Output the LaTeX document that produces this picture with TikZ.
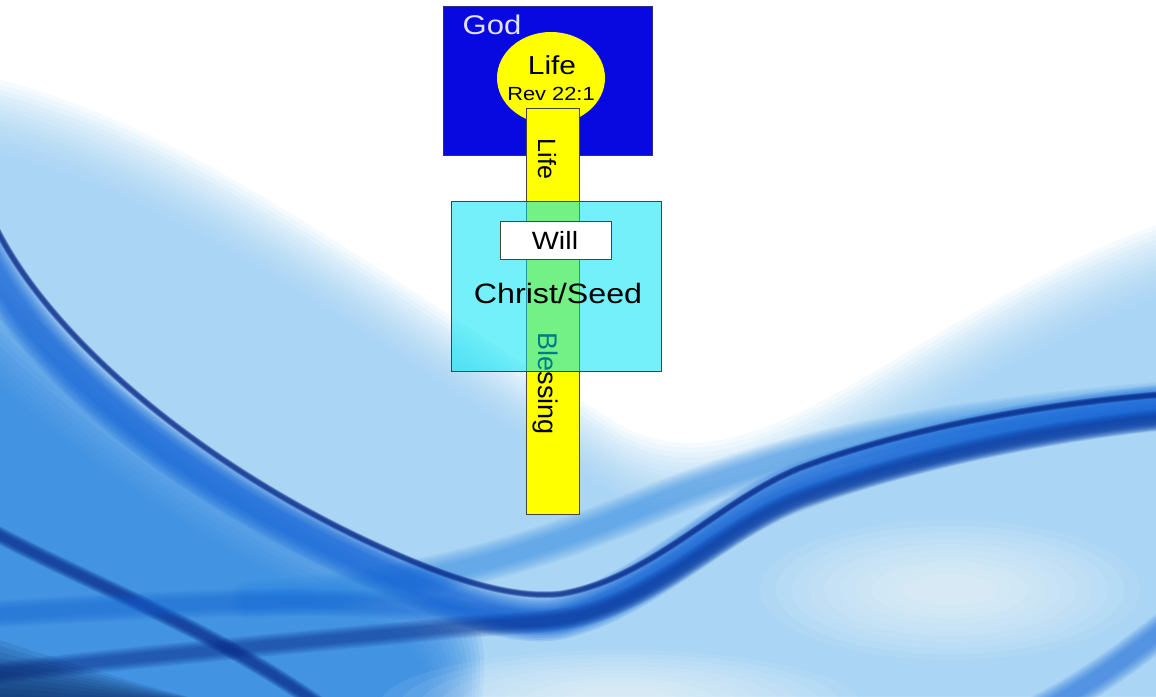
\documentclass[tikz,border=0pt]{standalone}
\usepackage{fontspec}
\usepackage{graphicx}
\setmainfont{Liberation Sans}
\usetikzlibrary{shapes.geometric}
\definecolor{bgLight}{RGB}{150,205,245}
\definecolor{bgMid}{RGB}{45,135,225}
\definecolor{bandBlue}{RGB}{20,100,215}
\definecolor{bandDark}{RGB}{10,45,140}
\definecolor{navy}{RGB}{5,30,85}
\definecolor{godBlue}{RGB}{8,8,225}
\definecolor{godText}{RGB}{225,225,255}
\definecolor{lifeYellow}{RGB}{255,255,0}
\definecolor{seedCyan}{RGB}{0,228,245}
\definecolor{edgeGray}{RGB}{70,70,60}
\definecolor{edgeTeal}{RGB}{30,80,95}
\newcommand\wide[1]{\scalebox{1.15}[1]{#1}}
\newcommand\softstroke[4]{%
  \foreach \k in {0,...,9}{\draw[color=#2, line width={#3*(1+0.2*\k)}, opacity=#4, line cap=round] #1;}}
\tikzset{
  godbox/.style={draw=edgeGray!60!godBlue, line width=0.6pt, fill=godBlue, inner sep=0pt, outer sep=0pt},
  lifeoval/.style={ellipse, fill=lifeYellow, inner sep=0pt, outer sep=0pt},
  lifebar/.style={draw=edgeGray, line width=0.7pt, fill=lifeYellow, inner sep=0pt, outer sep=0pt},
  seedbox/.style={draw=edgeTeal, line width=0.7pt, fill=seedCyan, fill opacity=0.55, draw opacity=1, inner sep=0pt, outer sep=0pt},
  willbox/.style={draw=edgeGray, line width=0.7pt, fill=white, inner sep=0pt, outer sep=0pt},
  lbl/.style={inner sep=0pt, outer sep=0pt, anchor=base, text=black},
}
\begin{document}
\begin{tikzpicture}[x=1pt,y=-1pt]
\useasboundingbox (0,0) rectangle (1156,696);
% ---------- background ----------
\begin{scope}
\clip (0,0) rectangle (1156,696);
\fill[white] (0,0) rectangle (1156,696);
% light blue region with soft top edge
\foreach \k in {0,...,15}{
  \fill[bgLight, opacity=0.085, yshift={-\k*5pt}]
    (0,80) .. controls (200,130) and (400,290) .. (620,425)
    .. controls (760,500) and (900,320) .. (1156,225)
    -- (1156,760) -- (0,760) -- cycle;
}
% medium blue region lower left
\foreach \k in {0,...,13}{
  \fill[bgMid, opacity=0.11, xshift={-\k*4pt}, yshift={-\k*4pt}]
    (-60,220) .. controls (90,390) and (260,500) .. (430,570)
    .. controls (480,600) and (500,640) .. (470,760) -- (-60,760) -- cycle;
}
% medium blue rising band (lower middle towards right)
\softstroke{(250,600) .. controls (400,590) and (520,560) .. (650,505) .. controls (760,460) and (900,420) .. (1200,398)}{bgMid}{14}{0.07}
% main swoosh
\softstroke{(-20,245) .. controls (40,365) and (180,485) .. (400,578) .. controls (470,608) and (520,625) .. (560,617) .. controls (650,595) and (720,515) .. (800,485) .. controls (900,450) and (1050,415) .. (1200,404)}{bandBlue}{16}{0.13}
\softstroke{(-10,215) .. controls (40,330) and (200,470) .. (400,556) .. controls (470,586) and (520,598) .. (560,594) .. controls (650,580) and (720,500) .. (800,468) .. controls (900,430) and (1050,400) .. (1200,392)}{bandDark}{2.5}{0.16}
% lower bands on the left, merging into the swoosh
\softstroke{(-20,525) .. controls (100,590) and (220,630) .. (340,720)}{bandDark}{6}{0.12}
\softstroke{(-20,615) .. controls (150,605) and (320,595) .. (440,610) .. controls (480,615) and (520,625) .. (560,620) .. controls (650,600) and (720,525) .. (800,495) .. controls (900,460) and (1050,425) .. (1200,412)}{bandBlue}{10}{0.06}
\softstroke{(-20,675) .. controls (150,655) and (330,640) .. (450,628) .. controls (500,624) and (530,624) .. (570,618) .. controls (660,600) and (720,530) .. (800,500) .. controls (900,462) and (1050,428) .. (1200,416)}{bandDark}{8}{0.07}
% dark lower-left corner
\foreach \k in {0,...,9}{
  \fill[navy, opacity=0.1] (0,{640+\k*6}) .. controls (60,{660+\k*4}) and (140,{685+\k*2}) .. (200,700) -- (0,700) -- cycle;
}
% whitish glow lower middle / right
\foreach \k in {0,...,9}{
  \fill[white, opacity=0.08] (950,590) ellipse ({190-\k*16} and {70-\k*6});
  \fill[white, opacity=0.08] (620,705) ellipse ({240-\k*20} and {55-\k*4});
}
% blue lower right
\softstroke{(1000,730) .. controls (1070,700) and (1120,665) .. (1200,600)}{bandBlue}{12}{0.08}
\end{scope}
% ---------- diagram ----------
\node[godbox, minimum width=209pt, minimum height=149pt] (god) at (547.5,80.5) {};
\node[lbl, text=godText, font=\fontsize{27}{30}\selectfont] (godlabel) at (492,34) {\wide{God}};
\node[lifeoval, minimum width=108pt, minimum height=92pt] (source) at (551,78) {};
\node[lbl, font=\fontsize{26}{30}\selectfont] (sourcelife) at (552,74) {\wide{Life}};
\node[lbl, font=\fontsize{19}{22}\selectfont] (sourceref) at (551,100) {\wide{Rev 22:1}};
\node[lifebar, minimum width=53pt, minimum height=406pt] (bar) at (553,311) {};
\node[lbl, rotate=-90, font=\fontsize{25}{28}\selectfont] (barlife) at (538,159) {Life};
\node[lbl, rotate=-90, font=\fontsize{27}{30}\selectfont] (blessing) at (538,384) {Blessing};
\node[seedbox, minimum width=210pt, minimum height=170pt] (seed) at (556,286) {};
\node[willbox, minimum width=111pt, minimum height=38pt] (will) at (555.5,240) {};
\node[lbl, font=\fontsize{25}{28}\selectfont] (willlabel) at (555,249) {\wide{Will}};
\node[lbl, font=\fontsize{28}{32}\selectfont] (seedlabel) at (558,303) {\wide{Christ/Seed}};
\end{tikzpicture}
\end{document}
